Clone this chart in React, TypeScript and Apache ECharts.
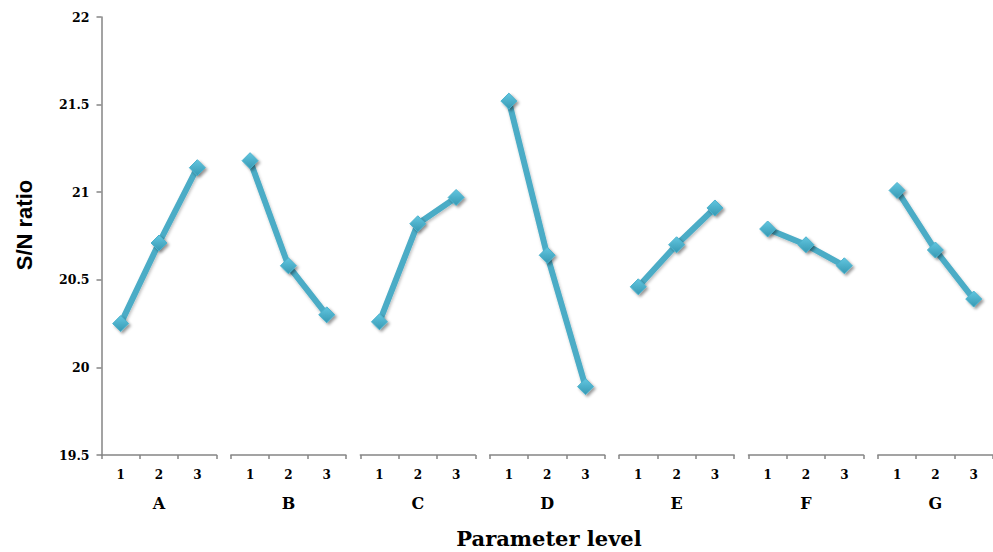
import React, { useEffect, useRef } from "react";
import * as echarts from "echarts";

const levels = ["1", "2", "3"];
const factors = ["A", "B", "C", "D", "E", "F", "G"];
const A = [20.25, 20.71, 21.14];
const B = [21.18, 20.58, 20.3];
const C = [20.26, 20.82, 20.97];
const D = [21.52, 20.64, 19.89];
const E = [20.46, 20.7, 20.91];
const F = [20.79, 20.7, 20.58];
const G = [21.01, 20.67, 20.39];
const seriesValues = [A, B, C, D, E, F, G];
const yTicks = { min: 19.5, max: 22, interval: 0.5 };

const LINE = "#4BACC6";
const AXIS = "#858585";
const SERIF = "DejaVu Serif";

export default function App() {
  const ref = useRef<HTMLDivElement>(null);
  useEffect(() => {
    if (!ref.current) return;
    const chart = echarts.init(ref.current, undefined, { renderer: "svg" });
    const left0 = 101.5;
    const step = 129.4;
    const w = 115;
    const grids = factors.map((_, i) => ({
      left: left0 + i * step,
      width: w,
      top: 17,
      height: 438,
    }));
    const xAxes = factors.map((f, i) => ({
      type: "category",
      gridIndex: i,
      data: levels,
      boundaryGap: true,
      name: f,
      nameLocation: "middle",
      nameGap: 40,
      nameTextStyle: { fontFamily: SERIF, fontWeight: "bold", fontSize: 16, color: "#000" },
      axisLine: { show: true, lineStyle: { color: AXIS, width: 1.5 } },
      axisTick: { show: true, length: 4, lineStyle: { color: AXIS, width: 1.5 } },
      axisLabel: { margin: 14, fontFamily: SERIF, fontWeight: "bold", fontSize: 12, color: "#000" },
      splitLine: { show: false },
    }));
    const yAxes = factors.map((_, i) => ({
      type: "value",
      gridIndex: i,
      min: yTicks.min,
      max: yTicks.max,
      interval: yTicks.interval,
      show: i === 0,
      axisLine: { show: true, lineStyle: { color: AXIS, width: 1.5 } },
      axisTick: { show: true, length: 5, lineStyle: { color: AXIS, width: 1.5 } },
      axisLabel: { margin: 12, fontFamily: SERIF, fontWeight: "bold", fontSize: 12.5, color: "#000" },
      splitLine: { show: false },
    }));
    const series = seriesValues.map((vals, i) => ({
      type: "line",
      xAxisIndex: i,
      yAxisIndex: i,
      data: vals,
      symbol: "diamond",
      symbolSize: 16,
      lineStyle: {
        color: LINE,
        width: 6,
        shadowColor: "rgba(0,0,0,0.25)",
        shadowBlur: 3,
        shadowOffsetX: 1,
        shadowOffsetY: 2,
      },
      itemStyle: {
        color: new echarts.graphic.LinearGradient(0, 0, 0, 1, [
          { offset: 0, color: "#62c6e0" },
          { offset: 1, color: "#3799b3" },
        ]),
        borderColor: "#4bb2cd",
        borderWidth: 1,
        shadowColor: "rgba(0,0,0,0.4)",
        shadowBlur: 3,
        shadowOffsetX: 2,
        shadowOffsetY: 2,
      },
      z: 3,
    }));
    chart.setOption({
      animation: false,
      backgroundColor: "#ffffff",
      grid: grids,
      xAxis: xAxes,
      yAxis: yAxes,
      series,
      graphic: [
        {
          type: "text",
          x: 24,
          y: 225,
          rotation: Math.PI / 2,
          style: {
            text: "S/N ratio",
            font: "bold 22px 'Liberation Sans', Arial, sans-serif",
            fill: "#000",
            align: "center",
            verticalAlign: "middle",
          },
        },
        {
          type: "text",
          x: 549,
          y: 538,
          style: {
            text: "Parameter level",
            font: `bold 21px '${SERIF}', serif`,
            fill: "#000",
            align: "center",
            verticalAlign: "middle",
          },
        },
      ],
    });
    return () => chart.dispose();
  }, []);
  return <div ref={ref} style={{ width: 993, height: 552, position: "absolute", left: 0, top: 0 }} />;
}
